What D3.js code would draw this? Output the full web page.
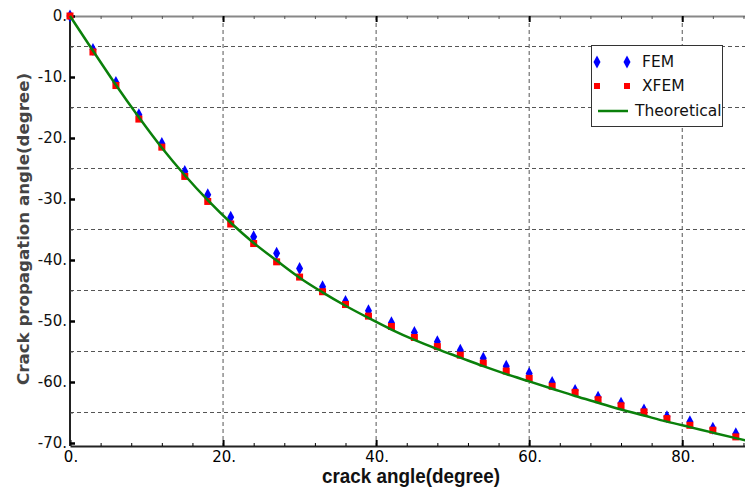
<!DOCTYPE html>
<html>
<head>
<meta charset="utf-8">
<script src="https://cdn.jsdelivr.net/npm/d3@7"></script>
<style>
  body { margin: 0; background: #fff; }
  svg { display: block; }
</style>
</head>
<body>
<div id="chart"></div>
<script>
'use strict'

// crack angle (degree)
const crackAngle = [0, 3, 6, 9, 12, 15, 18, 21, 24, 27, 30, 33, 36, 39, 42, 45, 48, 51, 54, 57, 60, 63, 66, 69, 72, 75, 78, 81, 84, 87]
// propagation angle
const femValues = [0, -5.5, -10.9, -16.2, -20.9, -25.5, -29.3, -33.0, -36.2, -38.9, -41.4, -44.4, -46.8, -48.3, -50.3, -51.9, -53.4, -54.8, -56.1, -57.4, -58.6, -60.1, -61.4, -62.5, -63.5, -64.6, -65.7, -66.5, -67.6, -68.5]
const xfemValues = [0, -5.9, -11.4, -16.9, -21.5, -26.3, -30.4, -34.1, -37.3, -40.3, -42.8, -45.2, -47.3, -49.2, -50.9, -52.7, -54.2, -55.6, -56.9, -58.2, -59.4, -60.7, -61.7, -62.9, -63.9, -64.9, -66.0, -67.1, -67.9, -69.0]
const theoryAngle = [0, 3, 6, 9, 12, 15, 18, 21, 24, 27, 30, 33, 36, 39, 42, 45, 48, 51, 54, 57, 60, 63, 66, 69, 72, 75, 78, 81, 84, 87, 89]
const theoryValues = [0, -5.7, -11.3, -16.6, -21.6, -26.1, -30.2, -33.9, -37.2, -40.1, -42.9, -45.3, -47.5, -49.5, -51.4, -53.1, -54.6, -56.0, -57.4, -58.7, -59.9, -61.1, -62.3, -63.4, -64.5, -65.5, -66.5, -67.4, -68.3, -69.2, -69.8]

const xTicks = [0, 20, 40, 60, 80]
const yTicks = [0, -10, -20, -30, -40, -50, -60, -70]
const yGrid = [-5, -15, -25, -35, -45, -55, -65]
const legendLabels = ['FEM', 'XFEM', 'Theoretical']

////////////////////////////////////
//////////// svg setup /////////////
////////////////////////////////////

const svgWidth = 745
const svgHeight = 493

const svg = d3.select('#chart')
    .append('svg')
    .attr('width', svgWidth)
    .attr('height', svgHeight)
    .attr('viewBox', `0 0 ${svgWidth} ${svgHeight}`)

const plotLeft = 70, plotTop = 16, plotBottom = 446, plotRight = 745

const x = d3.scaleLinear()
    .domain([0, 88.2])
    .range([plotLeft, plotRight])

const y = d3.scaleLinear()
    .domain([0, -70])
    .range([plotTop, 443])

const minorX = d3.range(0, 89, 4).filter(d => d % 20 !== 0)
const minorY = d3.range(-5, -70, -10)

const labelFont = '"DejaVu Sans", Verdana, sans-serif'

////////////////////////////////////
////////////// grid ////////////////
////////////////////////////////////

const grid = svg.append('g')
    .attr('stroke', '#555')
    .attr('stroke-width', 1)
    .attr('stroke-dasharray', '4,3')

grid.selectAll('.vgrid')
    .data(xTicks.filter(d => d > 0))
    .join('line')
    .attr('class', 'vgrid')
    .attr('x1', d => x(d)).attr('x2', d => x(d))
    .attr('y1', plotTop).attr('y2', plotBottom)

grid.selectAll('.hgrid')
    .data(yGrid)
    .join('line')
    .attr('class', 'hgrid')
    .attr('x1', plotLeft).attr('x2', plotRight)
    .attr('y1', d => y(d)).attr('y2', d => y(d))

////////////////////////////////////
////////////// axes ////////////////
////////////////////////////////////

// top frame with inward ticks
const topAxis = svg.append('g')
    .attr('transform', `translate(0,${plotTop})`)
    .call(d3.axisTop(x).tickValues(minorX).tickSize(-3).tickFormat('').tickSizeOuter(0))
topAxis.select('.domain').attr('stroke', '#888').attr('stroke-width', 2)
topAxis.selectAll('.tick line').attr('stroke', '#555')
svg.append('g')
    .attr('transform', `translate(0,${plotTop})`)
    .call(d3.axisTop(x).tickValues(xTicks.filter(d => d > 0)).tickSize(-6).tickFormat('').tickSizeOuter(0))
    .call(g => g.select('.domain').remove())
    .selectAll('.tick line').attr('stroke', '#000').attr('stroke-width', 2)

// bottom axis
const xAxis = svg.append('g')
    .attr('transform', `translate(0,${plotBottom})`)
    .call(d3.axisBottom(x).tickValues(minorX).tickSize(-3).tickFormat('').tickSizeOuter(0))
xAxis.select('.domain').attr('stroke', '#222').attr('stroke-width', 2)
svg.append('g')
    .attr('transform', `translate(0,${plotBottom})`)
    .call(d3.axisBottom(x).tickValues(xTicks).tickSize(-6).tickFormat('').tickSizeOuter(0))
    .call(g => g.select('.domain').remove())
    .selectAll('.tick line').attr('stroke', '#000').attr('stroke-width', 2)

svg.append('g')
    .selectAll('text')
    .data(xTicks)
    .join('text')
    .attr('x', d => x(d) + 1)
    .attr('y', 462)
    .attr('text-anchor', 'middle')
    .style('font-family', labelFont)
    .style('font-size', '15px')
    .attr('fill', '#000')
    .text(d => d + '.')

// left axis
const yAxis = svg.append('g')
    .attr('transform', `translate(${plotLeft},0)`)
    .call(d3.axisRight(y).tickValues(minorY).tickSize(3).tickFormat('').tickSizeOuter(0))
yAxis.select('.domain').attr('stroke', '#222').attr('stroke-width', 2).attr('d', `M0,${plotTop}V${plotBottom}`)
yAxis.selectAll('.tick line').attr('stroke', '#444')
svg.append('g')
    .attr('transform', `translate(${plotLeft},0)`)
    .call(d3.axisRight(y).tickValues(yTicks).tickSize(5).tickFormat('').tickSizeOuter(0))
    .call(g => g.select('.domain').remove())
    .selectAll('.tick line').attr('stroke', '#000').attr('stroke-width', 2.5)

svg.append('g')
    .selectAll('text')
    .data(yTicks)
    .join('text')
    .attr('x', plotLeft - 3)
    .attr('y', d => y(d))
    .attr('dy', '0.35em')
    .attr('text-anchor', 'end')
    .style('font-family', labelFont)
    .style('font-size', '15px')
    .attr('fill', '#111')
    .text(d => d + '.')

// axis titles
svg.append('text')
    .attr('x', 411)
    .attr('y', 483)
    .attr('text-anchor', 'middle')
    .attr('textLength', 178)
    .attr('lengthAdjust', 'spacingAndGlyphs')
    .style('font-family', '"Liberation Sans", Arial, sans-serif')
    .style('font-weight', 'bold')
    .style('font-size', '20px')
    .attr('fill', '#111')
    .text('crack angle(degree)')

svg.append('text')
    .attr('transform', 'translate(29,229) rotate(-90)')
    .attr('text-anchor', 'middle')
    .attr('textLength', 312)
    .attr('lengthAdjust', 'spacingAndGlyphs')
    .style('font-family', labelFont)
    .style('font-weight', 'bold')
    .style('font-size', '15px')
    .attr('fill', '#444')
    .text('Crack propagation angle(degree)')

////////////////////////////////////
//////////// add marks /////////////
////////////////////////////////////

const diamond = (cx, cy) => `M${cx},${cy - 6.5}L${cx + 3.5},${cy}L${cx},${cy + 6.5}L${cx - 3.5},${cy}Z`

svg.append('g')
    .selectAll('path')
    .data(crackAngle)
    .join('path')
    .attr('d', (d, i) => diamond(x(d), y(femValues[i])))
    .attr('fill', '#0000ff')

svg.append('g')
    .selectAll('rect')
    .data(crackAngle)
    .join('rect')
    .attr('x', d => x(d) - 3.5)
    .attr('y', (d, i) => y(xfemValues[i]) - 3.5)
    .attr('width', 7)
    .attr('height', 7)
    .attr('fill', '#ff0000')

const line = d3.line()
    .x(d => x(d[0]))
    .y(d => y(d[1]))
    .curve(d3.curveMonotoneX)

svg.append('path')
    .datum(theoryAngle.map((d, i) => [d, theoryValues[i]]))
    .attr('d', line)
    .attr('fill', 'none')
    .attr('stroke', '#0a800a')
    .attr('stroke-width', 2.5)

////////////////////////////////////
///////////// legend ///////////////
////////////////////////////////////

const legend = svg.append('g')

legend.append('rect')
    .attr('x', 591.5).attr('y', 45.5)
    .attr('width', 131).attr('height', 81)
    .attr('fill', '#fff')
    .attr('stroke', '#333')
    .attr('stroke-width', 1)

const rowY = [62, 86, 111]

legend.selectAll('.lg-fem')
    .data([597, 627])
    .join('path')
    .attr('class', 'lg-fem')
    .attr('d', d => diamond(d, rowY[0]))
    .attr('fill', '#0000ff')

legend.selectAll('.lg-xfem')
    .data([597, 627])
    .join('rect')
    .attr('class', 'lg-xfem')
    .attr('x', d => d - 3).attr('y', rowY[1] - 3)
    .attr('width', 6).attr('height', 6)
    .attr('fill', '#ff0000')

legend.append('line')
    .attr('x1', 598).attr('x2', 628)
    .attr('y1', rowY[2]).attr('y2', rowY[2])
    .attr('stroke', '#0a800a')
    .attr('stroke-width', 2.5)

legend.selectAll('.lg-text')
    .data(legendLabels)
    .join('text')
    .attr('class', 'lg-text')
    .attr('x', (d, i) => i === 2 ? 635 : 642)
    .attr('y', (d, i) => rowY[i])
    .attr('dy', '0.35em')
    .style('font-family', labelFont)
    .style('font-size', '15.5px')
    .attr('fill', '#111')
    .text(d => d)
</script>
</body>
</html>
